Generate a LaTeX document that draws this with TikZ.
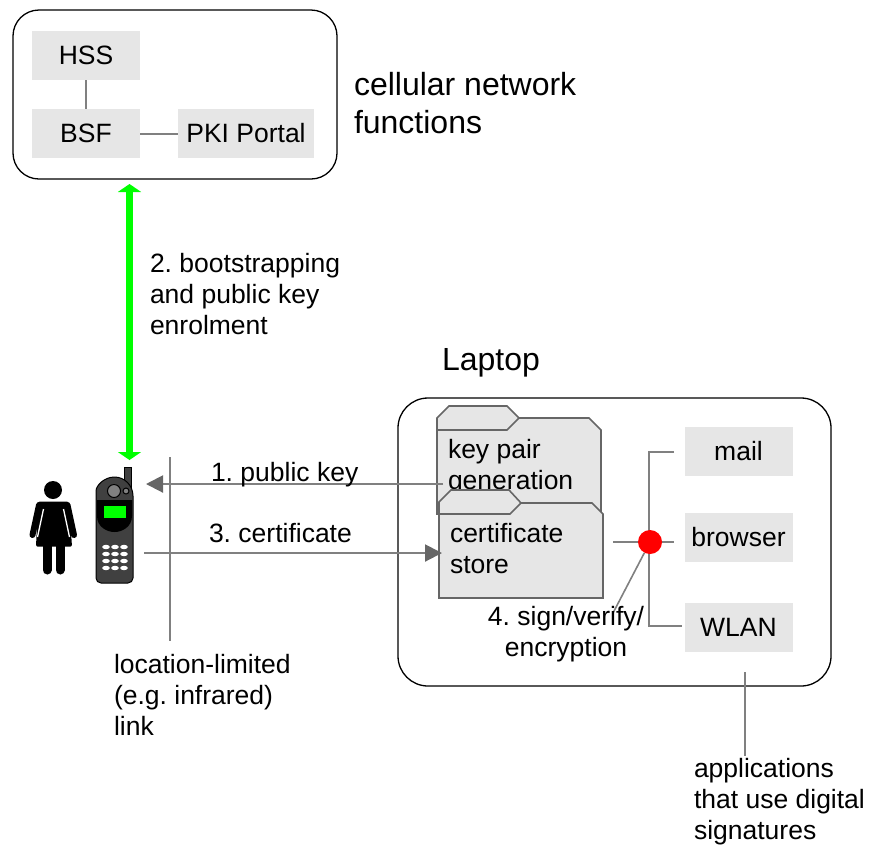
\documentclass[tikz,border=0pt]{standalone}
\usepackage{fontspec}
\setmainfont{Liberation Sans}
\usetikzlibrary{arrows.meta}
\definecolor{boxgray}{HTML}{E6E6E6}
\definecolor{linegray}{HTML}{808080}
\definecolor{headgray}{HTML}{666666}
\definecolor{phonegray}{HTML}{404040}
\definecolor{brightgreen}{HTML}{00FF00}
\tikzset{
  txt/.style={inner sep=0pt,outer sep=0pt,align=left,anchor=west,font=\fontsize{26.5}{31}\selectfont\frenchspacing,text=black},
  bigtxt/.style={txt,font=\fontsize{32}{38}\selectfont},
  grouped/.style={draw=black,line width=1.3pt,rounded corners=26pt,fill=white},
  func/.style={fill=boxgray,inner sep=0pt,outer sep=0pt,minimum height=49pt,minimum width=108pt,font=\fontsize{26.5}{31}\selectfont},
  link/.style={draw=linegray,line width=2pt},
  folder/.style={draw=headgray,line width=1.6pt,fill=boxgray,line join=miter},
  greyarrow/.style={link,-{Triangle[length=17pt,width=17pt,fill=headgray,color=headgray]}},
  greenarrow/.style={draw=brightgreen,line width=7.5pt,{Triangle[length=8pt,width=23pt]}-{Triangle[length=8pt,width=23pt]}},
  keybtn/.style={fill=white,draw=none},
}
\begin{document}
\begin{tikzpicture}[x=1pt,y=-1pt]
\useasboundingbox (0,0) rectangle (890,847);
% cellular network box
\node[grouped,minimum width=324pt,minimum height=169pt,inner sep=0pt] (net) at (175,94.5) {};
\node[func] (hss) at (86,55.5) {HSS};
\node[func] (bsf) at (86,133.5) {BSF};
\node[func,minimum width=136pt] (pki) at (246,133.5) {PKI Portal};
\draw[link] (hss.south) -- (bsf.north);
\draw[link] (bsf.east) -- (pki.west);
\node[bigtxt] (netlabel) at (354,103.5) {cellular network\\functions};
% green arrow
\coordinate (gtop) at (129.5,184);
\coordinate (gbot) at (129.5,460);
\draw[greenarrow] (gtop) -- (gbot);
\node[txt] (bootlabel) at (150,294) {2. bootstrapping\\and public key\\enrolment};
% laptop
\node[bigtxt] (laptoplabel) at (442,363) {Laptop};
\node[grouped,minimum width=433pt,minimum height=288pt,inner sep=0pt,rounded corners=30pt] (laptop) at (614.5,542) {};
\node[func] (mail) at (738.5,451.5) {mail};
\node[func] (browser) at (738.5,537.5) {browser};
\node[func] (wlan) at (738.5,627.5) {WLAN};
% key pair folder
\draw[folder] (437,514) -- (437,418) -- (449,406) -- (507,406) -- (519,418) -- (589,418) -- (601,430) -- (601,514) -- cycle;
\draw[folder,fill=none] (437,418) -- (437,430) -- (507,430) -- (519,418);
\node[txt] (keylabel) at (448,467.5) {key pair\\generation};
% location-limited link and arrows
\coordinate (keyout) at (443,484);
\coordinate (phoneR) at (146,484);
\coordinate (phoneS) at (144,553);
\coordinate (certin) at (442,553);
\coordinate (ltop) at (170,457);
\coordinate (lbot) at (170,641);
\draw[greyarrow] (keyout) -- (phoneR);
% certificate folder
\draw[folder] (439,598) -- (439,502) -- (451,490) -- (509,490) -- (521,503) -- (592,503) -- (603,514) -- (603,598) -- cycle;
\draw[folder,fill=none] (439,502) -- (439,514) -- (510,514) -- (521,503);
\node[txt] (certlabel) at (450,548.5) {certificate\\store};
\draw[greyarrow] (phoneS) -- (certin);
\draw[link] (ltop) -- (lbot);
\node[txt] (l1) at (211,475) {1. public key};
\node[txt] (l3) at (209,533) {3. certificate};
\node[txt] (linklabel) at (114,695) {location-limited\\(e.g. infrared)\\link};
% red junction
\coordinate (jw) at (613,542);
\coordinate (dg) at (613,613);
\draw[link] (jw) -- (674,542);
\draw[link] (674,452) -- (649,452) -- (649,626) -- (682,626);
\node[circle,fill=red,minimum size=24pt,inner sep=0pt] (junction) at (650,542) {};
\draw[link,line width=1.6pt] (junction) -- (dg);
\node[txt,align=center,anchor=center] (signlabel) at (566,634.5) {4. sign/verify/\\encryption};
% applications
\coordinate (atop) at (745,672);
\coordinate (abot) at (745,756);
\draw[link] (atop) -- (abot);
\node[txt] (applabel) at (694,802) {applications\\that use digital\\signatures};
% woman
\fill[black] (53,490) circle (9);
\fill[black,rounded corners=2pt] (38,501.5) -- (69,501.5) -- (72,546.7) -- (36,546.7) -- cycle;
\draw[black,line width=6pt,line cap=round] (39,505) -- (32.5,535);
\draw[black,line width=6pt,line cap=round] (67.5,505) -- (74,535);
\draw[white,line width=1.3pt] (43.5,509) -- (37.5,537);
\draw[white,line width=1.3pt] (63.5,509) -- (69.5,537);
\draw[black,line width=9pt,line cap=round] (47,546) -- (47,570);
\draw[black,line width=9pt,line cap=round] (60,546) -- (60,570);
% phone
\draw[black,line width=.8pt,fill=phonegray] (124,467) rectangle (131,488);
\draw[black,line width=1pt,fill=phonegray] (96,496) arc[start angle=180,end angle=360,x radius=18.5,y radius=19] [rounded corners=5pt] -- (133,583) -- (96,583) -- cycle;
\fill[black] (97,500) -- (132,500) -- (132,516) .. controls (132,527) and (122,532) .. (114.5,532) .. controls (107,532) and (97,527) .. (97,516) -- cycle;
\fill[brightgreen] (104,506) rectangle (126,518);
\draw[black,line width=1pt,fill=linegray] (114,491) circle (6.5);
\draw[black,line width=1pt,fill=linegray] (126,491) circle (3);
\foreach \ky in {547,554,561,568}
  \foreach \kx in {106,115,124}
    \fill[keybtn] (\kx,\ky) ellipse (3.8 and 2.2);
\end{tikzpicture}
\end{document}
